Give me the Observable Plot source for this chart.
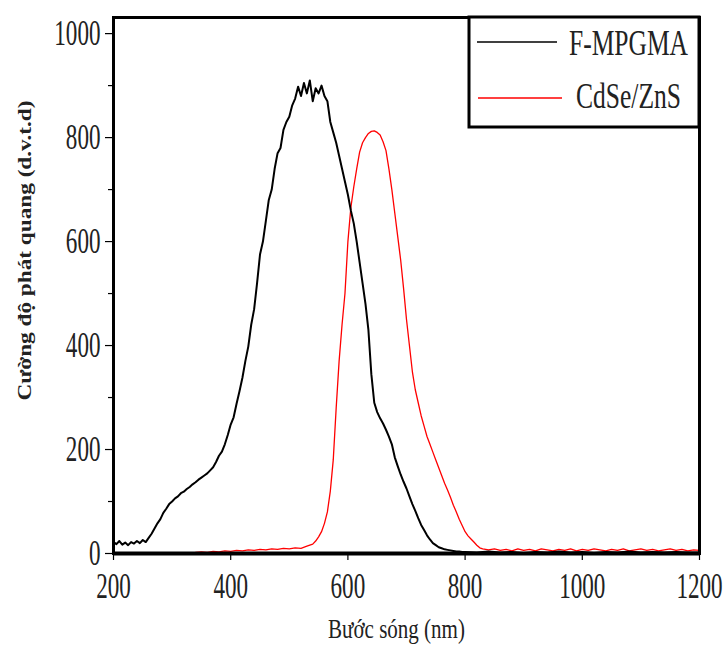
<!DOCTYPE html>
<html><head><meta charset="utf-8">
<script src="https://cdn.jsdelivr.net/npm/d3@7"></script>
<script src="https://cdn.jsdelivr.net/npm/@observablehq/plot@0.6"></script>
<style>
body{margin:0;background:#fff;}
#wrap{position:relative;width:728px;height:650px;overflow:hidden;}
#legend{position:absolute;left:0;top:0;pointer-events:none;}
</style></head><body><div id="wrap"></div>
<script>
const seriesNames = ["F-MPGMA", "CdSe/ZnS"];
const seriesColors = ["#000000", "#ff0000"];
const xTicks = [200, 400, 600, 800, 1000, 1200];
const yTicks = [0, 200, 400, 600, 800, 1000];
const yMinorTicks = [100, 300, 500, 700, 900];
const xLabel = "Bước sóng (nm)";
const yLabel = "Cường độ phát quang (d.v.t.d)";

// F-MPGMA: [wavelength nm, intensity]
const fmpgma = [
[200,22],[205,18],[210,24],[215,17],[220,21],[225,16],[230,22],[235,19],[240,24],[245,20],
[250,26],[255,22],[260,30],[265,38],[270,48],[275,58],[280,66],[285,78],[290,86],[295,95],
[300,100],[305,106],[310,110],[315,116],[320,119],[325,124],[330,128],[335,133],[340,137],[345,142],
[350,146],[355,150],[360,154],[365,160],[370,166],[375,176],[380,188],[385,196],[390,210],[395,228],
[400,248],[405,262],[410,288],[415,312],[420,338],[425,370],[430,398],[435,440],[440,470],[445,520],
[450,575],[455,600],[460,640],[465,680],[470,700],[475,740],[480,770],[485,780],[490,815],[495,830],
[500,840],[505,862],[510,875],[515,898],[520,880],[525,905],[530,885],[535,910],[540,870],[545,895],
[550,885],[555,900],[560,880],[565,870],[570,830],[575,810],[580,790],[585,765],[590,740],[595,715],
[600,690],[605,660],[610,635],[615,600],[620,560],[625,520],[630,480],[635,430],[640,345],[645,290],
[650,272],[655,260],[660,250],[665,238],[670,225],[675,210],[680,185],[685,168],[690,152],[695,138],
[700,125],[705,110],[710,95],[715,82],[720,68],[725,55],[730,45],[735,35],[740,27],[745,20],
[750,16],[755,12],[760,10],[765,8],[770,7],[775,6],[780,5],[785,4],[790,4],[795,3],
[800,3],[820,2],[840,4],[860,2],[880,3],[900,1],[920,3],[940,2],[960,4],[980,2],
[1000,3],[1020,1],[1040,3],[1060,2],[1080,4],[1100,2],[1120,3],[1140,2],[1160,3],[1180,2],[1200,2]
];

// CdSe/ZnS: [wavelength nm, intensity]
const cdseZns = [
[340,2],[350,3],[360,2],[370,4],[380,3],[390,5],[400,4],[410,6],[420,5],[430,7],
[440,6],[450,8],[460,7],[470,9],[480,8],[490,10],[500,9],[510,11],[520,10],[530,14],
[540,18],[545,24],[550,32],[555,42],[560,58],[565,80],[570,120],[575,180],[580,280],[585,370],
[590,440],[595,500],[600,600],[605,665],[610,705],[615,740],[620,772],[625,790],[630,800],[635,808],
[640,812],[645,813],[650,810],[655,805],[660,792],[665,775],[670,740],[675,700],[680,655],[685,610],
[690,565],[695,510],[700,450],[705,400],[710,350],[715,315],[720,290],[725,265],[730,245],[735,225],
[740,210],[745,195],[750,180],[755,165],[760,150],[765,135],[770,122],[775,108],[780,93],[785,80],
[790,66],[795,54],[800,42],[805,34],[810,28],[815,22],[820,16],[825,11],[830,9],[840,7],
[850,9],[860,6],[870,8],[880,5],[890,9],[900,6],[910,8],[920,5],[930,9],[940,7],
[950,5],[960,8],[970,6],[980,9],[990,5],[1000,8],[1010,6],[1020,9],[1030,7],[1040,5],
[1050,8],[1060,6],[1070,9],[1080,5],[1090,7],[1100,9],[1110,6],[1120,8],[1130,5],[1140,7],
[1150,9],[1160,6],[1170,8],[1180,5],[1190,7],[1200,6]
];

const rows = [
  ...fmpgma.map(([x, y]) => ({x, y, s: seriesNames[0]})),
  ...cdseZns.map(([x, y]) => ({x, y, s: seriesNames[1]}))
];

const W = 728, H = 650;
const chart = Plot.plot({
  width: W, height: H,
  marginLeft: 113, marginRight: 29, marginTop: 17, marginBottom: 97,
  style: {fontFamily: "'Liberation Serif', 'Times New Roman', serif", background: "#fff", color: "#000"},
  x: {domain: [200, 1200]},
  y: {domain: [0, 1031]},
  color: {domain: seriesNames, range: seriesColors},
  marks: [
    Plot.axisX({ticks: xTicks, tickSize: 7, tickPadding: 13, strokeWidth: 1.2, tickFormat: d => String(d),
      label: xLabel, labelAnchor: "center", labelArrow: "none", labelOffset: 84}),
    Plot.axisY({ticks: yTicks, tickSize: 8, tickPadding: 5, strokeWidth: 1.2, tickFormat: d => String(d),
      label: yLabel, labelAnchor: "center", labelArrow: "none", labelOffset: 96}),
    Plot.axisY({ticks: yMinorTicks, tickSize: 5, strokeWidth: 1.2, text: null, label: null}),
    Plot.line(rows.filter(d => d.s === seriesNames[1]), {x: "x", y: "y", stroke: "s", strokeWidth: 1.3}),
    Plot.line(rows.filter(d => d.s === seriesNames[0]), {x: "x", y: "y", stroke: "s", strokeWidth: 2}),
    Plot.ruleY([0], {stroke: "#000", strokeWidth: 4}),
    Plot.frame({stroke: "#000", strokeWidth: 3})
  ]
});
const wrap = document.getElementById("wrap");
wrap.appendChild(chart);

const NS = "http://www.w3.org/2000/svg";
// Wrap a text in a group and squeeze it along one screen axis about an anchor
function squeeze(el, opts) {
  const g = document.createElementNS(NS, "g");
  el.parentNode.insertBefore(g, el);
  g.appendChild(el);
  const bb = g.getBBox();
  if (opts.axis === "y") {
    const s = opts.length ? opts.length / bb.height : opts.s;
    const cy = bb.y + bb.height / 2;
    g.setAttribute("transform", `translate(0,${cy + (opts.shift || 0)}) scale(1,${s}) translate(0,${-cy})`);
  } else {
    const s = opts.length ? opts.length / bb.width : opts.s;
    const ax = opts.anchor === "end" ? bb.x + bb.width : bb.x + bb.width / 2;
    g.setAttribute("transform", `translate(${ax + (opts.shift || 0)},0) scale(${s},1) translate(${-ax},0)`);
  }
}

const svg = d3.select(chart);
svg.selectAll('g[aria-label="x-axis tick label"] text').attr("font-size", 35).attr("fill", "#222")
  .each(function() { squeeze(this, {s: 0.66, anchor: "middle"}); });
svg.selectAll('g[aria-label="y-axis tick label"] text').attr("font-size", 35).attr("fill", "#222")
  .each(function() { squeeze(this, {s: 0.66, anchor: "end"}); });
svg.selectAll('g[aria-label="x-axis label"] text')
  .attr("font-size", 28).attr("fill", "#222")
  .each(function() { squeeze(this, {length: 137, anchor: "middle", shift: -10}); });
svg.selectAll('g[aria-label="y-axis label"] text')
  .attr("font-size", 19).attr("font-weight", "bold").attr("fill", "#222")
  .each(function() { squeeze(this, {axis: "y", length: 300, shift: -35}); });

// Legend box (top right, bordered)
const leg = d3.select(wrap).append("svg").attr("id", "legend").attr("width", W).attr("height", H);
leg.append("rect").attr("x", 469).attr("y", 17).attr("width", 230).attr("height", 110)
  .attr("fill", "#fff").attr("stroke", "#000").attr("stroke-width", 3);
const legRows = [
  {name: seriesNames[0], color: seriesColors[0], ly: 42, x1: 477, x2: 557, tx: 688, ty: 55, tl: 119},
  {name: seriesNames[1], color: seriesColors[1], ly: 98, x1: 478, x2: 562, tx: 681, ty: 108, tl: 105}
];
legRows.forEach(r => {
  leg.append("line").attr("x1", r.x1).attr("x2", r.x2).attr("y1", r.ly).attr("y2", r.ly)
    .attr("stroke", r.color).attr("stroke-width", 1.3);
  const t = leg.append("text").attr("text-anchor", "end")
    .attr("font-family", "'Liberation Serif', serif").attr("font-size", 35).attr("fill", "#222")
    .text(r.name);
  const node = t.node();
  const sx = r.tl / node.getComputedTextLength();
  t.attr("transform", `translate(${r.tx},${r.ty}) scale(${sx},1)`);
});
</script>
</body></html>
